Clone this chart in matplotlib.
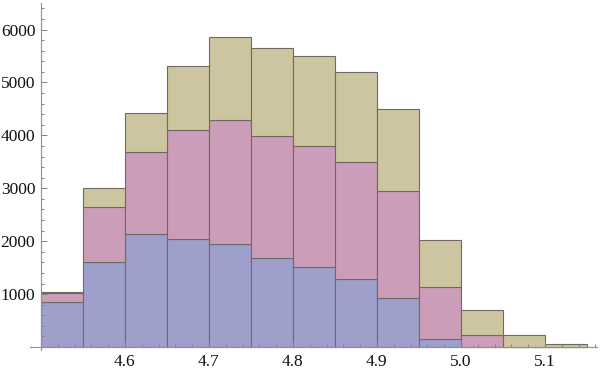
# Stacked histogram, Mathematica look
import matplotlib.pyplot as plt
import numpy as np
from matplotlib.ticker import MultipleLocator, FixedLocator

# bin left edges (width 0.05)
edges = np.array([4.50, 4.55, 4.60, 4.65, 4.70, 4.75, 4.80,
                  4.85, 4.90, 4.95, 5.00, 5.05, 5.10])
# counts per series, bottom to top
blue = np.array([855, 1607, 2130, 2040, 1955, 1680, 1505, 1282, 935, 157, 0, 0, 0])
pink = np.array([160, 1034, 1556, 2062, 2336, 2309, 2292, 2212, 2011, 972, 225, 0, 0])
khaki = np.array([20, 370, 743, 1204, 1566, 1656, 1707, 1701, 1550, 899, 469, 227, 51])

xticks = [4.6, 4.7, 4.8, 4.9, 5.0, 5.1]
xlabels = ["4.6", "4.7", "4.8", "4.9", "5.0", "5.1"]
yticks = [1000, 2000, 3000, 4000, 5000, 6000]

plt.rcParams['font.family'] = ['Liberation Serif', 'DejaVu Serif']

fig = plt.figure(figsize=(6, 3.72), dpi=100)
ax = fig.add_axes([0.05, 0.0586, 0.945, 0.933])

edge = '#6d6a64'
ax.bar(edges, blue, width=0.05, align='edge', color='#9f9fcc',
       edgecolor=edge, linewidth=0.8)
ax.bar(edges, pink, width=0.05, align='edge', bottom=blue, color='#cc9db8',
       edgecolor=edge, linewidth=0.8)
ax.bar(edges, khaki, width=0.05, align='edge', bottom=blue + pink, color='#ccc59f',
       edgecolor=edge, linewidth=0.8)

ax.set_xlim(4.487, 5.162)
ax.set_ylim(-60, 6500)

ax.spines['top'].set_visible(False)
ax.spines['right'].set_visible(False)
ax.spines['left'].set_position(('data', 4.5))
ax.spines['bottom'].set_position(('data', 0))
for s in ['left', 'bottom']:
    ax.spines[s].set_color('#909090')
    ax.spines[s].set_linewidth(0.8)

ax.xaxis.set_major_locator(FixedLocator(xticks))
ax.set_xticklabels(xlabels)
ax.xaxis.set_minor_locator(MultipleLocator(0.02))
ax.yaxis.set_major_locator(FixedLocator(yticks))
ax.yaxis.set_minor_locator(MultipleLocator(200))

ax.tick_params(which='both', direction='in', color='#808080', width=0.7,
               labelsize=12.5, labelcolor='#111111')
ax.tick_params(which='major', length=4.5)
ax.tick_params(which='minor', length=2.5)
ax.tick_params(axis='x', pad=5)
ax.tick_params(axis='y', pad=4)

fig.savefig('out.png', dpi=100)
